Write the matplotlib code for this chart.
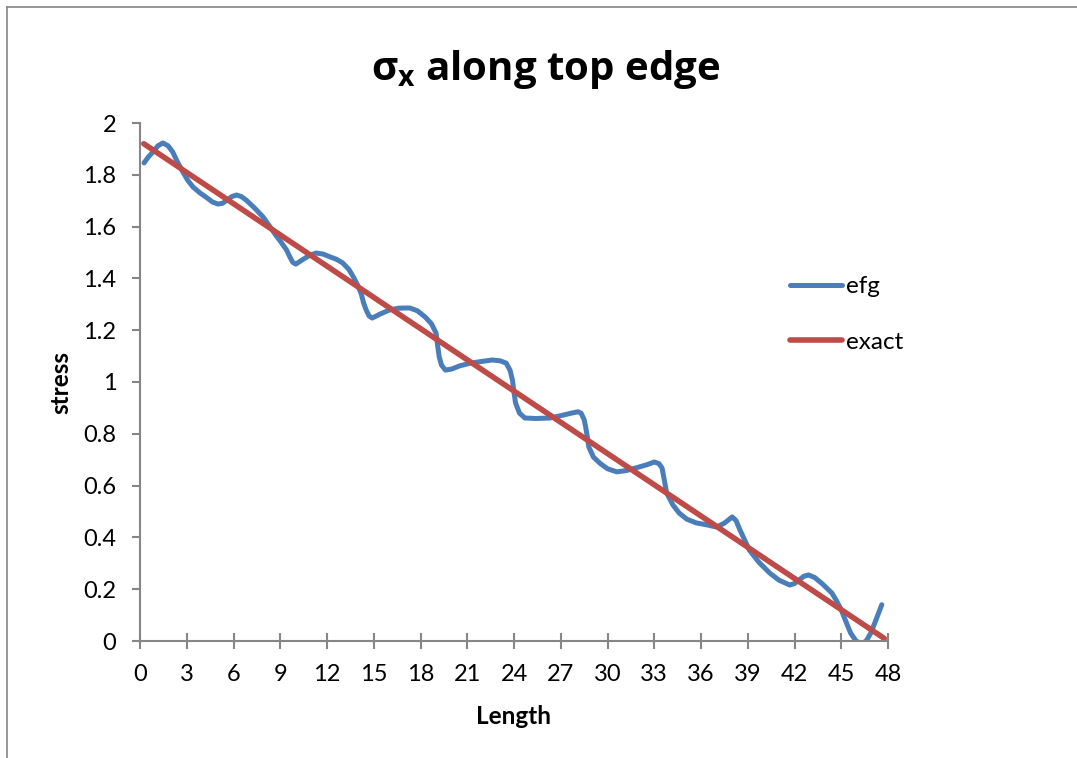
import matplotlib
matplotlib.use("Agg")
import matplotlib.pyplot as plt
from matplotlib.lines import Line2D

length = [0.26, 0.55, 0.83, 1.15, 1.47, 1.8, 2.1, 2.4, 2.75, 3.05, 3.4, 3.85, 4.3, 4.65,
          5.0, 5.3, 5.6, 5.9, 6.2, 6.5, 6.8, 7.35, 7.9, 8.3, 8.7, 9.05, 9.4, 9.6, 9.8,
          10.0, 10.4, 10.85, 11.3, 11.75, 12.2, 12.6, 13.0, 13.4, 13.7, 14.0, 14.2, 14.35,
          14.5, 14.7, 14.9, 15.4, 16.0, 16.6, 17.3, 17.8, 18.3, 18.7, 19.0, 19.1, 19.2,
          19.35, 19.6, 20.0, 20.5, 21.2, 22.6, 23.1, 23.5, 23.75, 23.9, 24.0, 24.1, 24.35,
          24.7, 25.4, 26.3, 27.0, 27.7, 28.1, 28.3, 28.5, 28.6, 28.7, 28.8, 29.1, 29.5,
          30.0, 30.6, 31.2, 31.8, 32.5, 33.0, 33.3, 33.5, 33.65, 33.8, 34.2, 34.6, 35.1,
          35.7, 36.4, 37.0, 37.5, 38.0, 38.25, 38.5, 38.8, 39.1, 39.7, 40.4, 41.0, 41.7,
          42.0, 42.3, 42.6, 42.9, 43.3, 43.8, 44.4, 44.7, 45.0, 45.3, 45.6, 45.95, 46.3,
          46.6, 46.9, 47.25, 47.6]
efg = [1.846, 1.87, 1.888, 1.912, 1.923, 1.912, 1.888, 1.85, 1.811, 1.78, 1.753, 1.73,
       1.711, 1.695, 1.687, 1.69, 1.703, 1.716, 1.722, 1.716, 1.703, 1.672, 1.637, 1.603,
       1.568, 1.54, 1.51, 1.485, 1.462, 1.455, 1.471, 1.488, 1.498, 1.494, 1.483, 1.474,
       1.46, 1.435, 1.405, 1.37, 1.34, 1.305, 1.28, 1.255, 1.247, 1.262, 1.278, 1.285,
       1.286, 1.275, 1.251, 1.225, 1.189, 1.14, 1.097, 1.065, 1.046, 1.05, 1.062, 1.073,
       1.085, 1.082, 1.073, 1.045, 1.008, 0.96, 0.919, 0.88, 0.861, 0.859, 0.861, 0.87,
       0.88, 0.885, 0.88, 0.855, 0.826, 0.79, 0.749, 0.71, 0.687, 0.665, 0.653, 0.658,
       0.668, 0.68, 0.691, 0.685, 0.668, 0.62, 0.571, 0.525, 0.494, 0.47, 0.456, 0.448,
       0.44, 0.455, 0.479, 0.465, 0.429, 0.39, 0.351, 0.305, 0.263, 0.235, 0.216, 0.222,
       0.236, 0.25, 0.255, 0.245, 0.22, 0.185, 0.155, 0.12, 0.075, 0.031, 0.0, -0.01,
       0.0, 0.031, 0.085, 0.14]
exact_x = [0.24, 47.76]
exact_y = [1.92, 0.01]

x_ticks = list(range(0, 49, 3))
y_ticks = [0, 0.2, 0.4, 0.6, 0.8, 1, 1.2, 1.4, 1.6, 1.8, 2]
y_tick_labels = ["0", "0.2", "0.4", "0.6", "0.8", "1", "1.2", "1.4", "1.6", "1.8", "2"]

plt.rcParams['font.family'] = ['Lato', 'DejaVu Sans']
plt.rcParams['mathtext.fontset'] = 'custom'
plt.rcParams['mathtext.rm'] = 'Open Sans:bold'
plt.rcParams['mathtext.it'] = 'Open Sans:bold'
plt.rcParams['mathtext.bf'] = 'Open Sans:bold'

W, H = 1077, 758
fig = plt.figure(figsize=(W / 100, H / 100), dpi=100)
ax = fig.add_axes([140 / W, 1 - 641 / H, 748 / W, 518 / H])

axis_grey = '#868686'
ax.plot(length, efg, color='#4A7EBB', linewidth=3.6, label='efg',
        solid_capstyle='round', solid_joinstyle='round')
ax.plot(exact_x, exact_y, color='#BE4B48', linewidth=4.0, label='exact',
        solid_capstyle='round')

ax.set_xlim(0, 48)
ax.set_ylim(0, 2)
ax.set_xticks(x_ticks)
ax.set_xticklabels([str(t) for t in x_ticks])
ax.set_yticks(y_ticks)
ax.set_yticklabels(y_tick_labels)

for side in ['top', 'right']:
    ax.spines[side].set_visible(False)
for side in ['left', 'bottom']:
    ax.spines[side].set_color(axis_grey)
    ax.spines[side].set_linewidth(1.5)

ax.tick_params(axis='x', direction='inout', length=11.5, width=1.5, color=axis_grey,
               labelsize=17, pad=11)
ax.tick_params(axis='y', direction='out', length=6, width=1.5, color=axis_grey,
               labelsize=17, pad=11)

ax.set_xlabel('Length', fontsize=17.5, fontweight='bold', labelpad=14)
ax.set_ylabel('stress', fontsize=17.5, fontweight='bold', labelpad=8)

fig.text(546 / W, 1 - 80 / H, r'$\sigma_x$ along top edge', ha='center', va='baseline',
         fontsize=29, fontweight='bold', family=['Open Sans', 'DejaVu Sans'])

leg = ax.legend(loc='upper left', bbox_to_anchor=(790 / W, 1 - 276 / H),
                bbox_transform=fig.transFigure, frameon=False, fontsize=17.5,
                handlelength=2.15, handletextpad=0.15, labelspacing=1.42,
                borderpad=0, borderaxespad=0)

# chart area border (only top and left visible)
fig.add_artist(Line2D([7 / W, 1], [1 - 7 / H, 1 - 7 / H], color=axis_grey, linewidth=1.2))
fig.add_artist(Line2D([7 / W, 7 / W], [0, 1 - 7 / H], color=axis_grey, linewidth=1.2))

fig.savefig('out.png', dpi=100)
